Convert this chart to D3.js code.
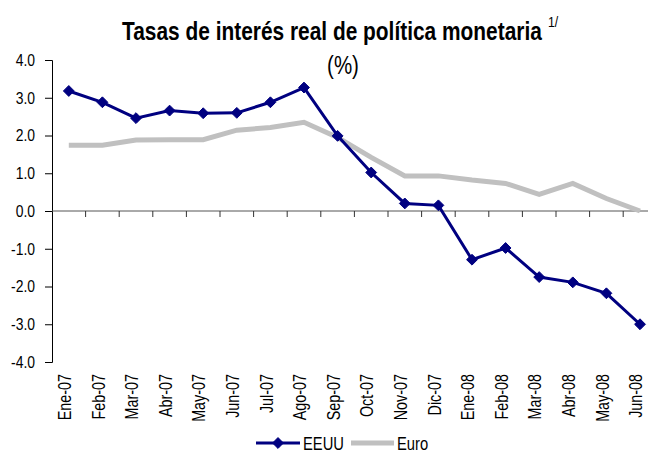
<!doctype html>
<html lang="es">
<head>
<meta charset="utf-8">
<title>Tasas de interés real de política monetaria</title>
<script src="https://cdnjs.cloudflare.com/ajax/libs/d3/7.8.5/d3.min.js"></script>
<style>
html, body {
	margin: 0;
	padding: 0;
	background: #fff;
}
svg {
	display: block;
	font-family: 'Liberation Sans', Arial, sans-serif;
	fill: #000;
}
</style>
</head>
<body>
<div id="chart"></div>
<script>
/* DATA */

var months = ['Ene-07', 'Feb-07', 'Mar-07', 'Abr-07', 'May-07', 'Jun-07', 'Jul-07', 'Ago-07', 'Sep-07',
	'Oct-07', 'Nov-07', 'Dic-07', 'Ene-08', 'Feb-08', 'Mar-08', 'Abr-08', 'May-08', 'Jun-08'];

var eeuu = [3.18, 2.88, 2.46, 2.66, 2.59, 2.6, 2.88, 3.27, 1.99,
	1.02, 0.2, 0.15, -1.29, -0.98, -1.75, -1.89, -2.18, -3.0];

var euro = [1.74, 1.74, 1.88, 1.89, 1.89, 2.14, 2.21, 2.35, 1.95,
	1.42, 0.93, 0.93, 0.82, 0.73, 0.44, 0.73, 0.33, 0.0];

var yTicks = [4, 3, 2, 1, 0, -1, -2, -3, -4];

var seriesNames = ['EEUU', 'Euro'];

/* CONST */

var W = 648, H = 453;
var LEFT = 52, TOP = 60, BOTTOM = 362;
var STEP = 33.6;
var NARROW = 0.82; // no Arial Narrow installed: squeeze Liberation Sans instead
var NAVY = '#000080', GREY = '#c0c0c0';

var svg = d3.select('#chart').append('svg')
	.attr('width', W)
	.attr('height', H);

var x = d3.scaleBand()
	.domain(months)
	.range([LEFT, LEFT + STEP * months.length]);

var y = d3.scaleLinear()
	.domain([-4, 4])
	.range([BOTTOM, TOP]);

var cx = function (d, i) { return x(months[i]) + x.bandwidth() / 2; };

var label = function (parent, px, py, str, size, anchor, sx) {
	return parent.append('g')
		.attr('transform', 'translate(' + px + ',' + py + ') scale(' + (sx || NARROW) + ',1)')
		.append('text')
		.attr('text-anchor', anchor || 'start')
		.style('font-size', size + 'px')
		.text(str);
};

/* TITLE */

var title = label(svg, 122, 40, 'Tasas de interés real de política monetaria', 26, 'start', 1)
	.style('font-weight', 'bold');
// squeeze the title to the width it has in the picture
var tw = title.node().getComputedTextLength();
d3.select(title.node().parentNode)
	.attr('transform', 'translate(122,40) scale(' + (420 / tw) + ',1)');

label(svg, 548, 27, '1/', 15);
label(svg, 343, 74, '(%)', 25, 'middle');

/* AXES */

var yAxis = d3.axisLeft(y)
	.tickValues(yTicks)
	.tickSize(7)
	.tickPadding(10)
	.tickFormat(function (d) { return d3.format('.1f')(d).replace('\u2212', '-'); });

svg.append('g')
	.attr('transform', 'translate(' + LEFT + ',0)')
	.call(yAxis)
	.attr('font-family', null)
	.attr('font-size', null)
	.call(function (g) {
		g.select('.domain').attr('stroke', '#000');
		g.selectAll('.tick line').attr('stroke', '#000');
		g.selectAll('.tick text')
			.attr('x', -17 / NARROW)
			.attr('transform', 'scale(' + NARROW + ',1)')
			.style('font-size', '17px')
			.attr('fill', '#000');
	});

// horizontal axis crosses at zero, tick marks on band edges
var xAxis = svg.append('g');

xAxis.append('line')
	.attr('x1', LEFT)
	.attr('x2', W)
	.attr('y1', y(0))
	.attr('y2', y(0))
	.attr('stroke', '#555');

xAxis.selectAll('line.tk')
	.data(months)
	.enter()
	.append('line')
	.attr('class', 'tk')
	.attr('x1', function (d) { return x(d) + x.bandwidth(); })
	.attr('x2', function (d) { return x(d) + x.bandwidth(); })
	.attr('y1', y(0))
	.attr('y2', y(0) + 6)
	.attr('stroke', '#333');

svg.append('g')
	.selectAll('g')
	.data(months)
	.enter()
	.append('g')
	.attr('transform', function (d, i) {
		return 'translate(' + (cx(d, i) - 4) + ',' + (BOTTOM + 12) + ') rotate(-90) scale(' + NARROW + ',1)';
	})
	.append('text')
	.attr('text-anchor', 'end')
	.attr('dy', '0.35em')
	.style('font-size', '17.5px')
	.text(function (d) { return d; });

/* SERIES */

var line = d3.line()
	.x(cx)
	.y(function (d) { return y(d); });

svg.append('path')
	.datum(euro)
	.attr('d', line)
	.attr('fill', 'none')
	.attr('stroke', GREY)
	.attr('stroke-width', 5);

svg.append('path')
	.datum(eeuu)
	.attr('d', line)
	.attr('fill', 'none')
	.attr('stroke', NAVY)
	.attr('stroke-width', 3);

var diamond = d3.symbol().type(d3.symbolDiamond2).size(75);

svg.append('g')
	.selectAll('path')
	.data(eeuu)
	.enter()
	.append('path')
	.attr('d', diamond)
	.attr('transform', function (d, i) {
		return 'translate(' + cx(d, i) + ',' + y(d) + ')';
	})
	.attr('fill', NAVY)
	.attr('stroke', NAVY)
	.attr('stroke-width', 1);

/* LEGEND */

var legend = svg.append('g');
var LY = 443;

legend.append('line')
	.attr('x1', 256).attr('x2', 300)
	.attr('y1', LY).attr('y2', LY)
	.attr('stroke', NAVY)
	.attr('stroke-width', 3);

legend.append('path')
	.attr('d', diamond)
	.attr('transform', 'translate(278,' + LY + ')')
	.attr('fill', NAVY)
	.attr('stroke', NAVY);

label(legend, 303, LY + 6.5, seriesNames[0], 18);

legend.append('line')
	.attr('x1', 351).attr('x2', 394)
	.attr('y1', LY).attr('y2', LY)
	.attr('stroke', GREY)
	.attr('stroke-width', 5);

label(legend, 397, LY + 6.5, seriesNames[1], 18);
</script>
</body>
</html>
